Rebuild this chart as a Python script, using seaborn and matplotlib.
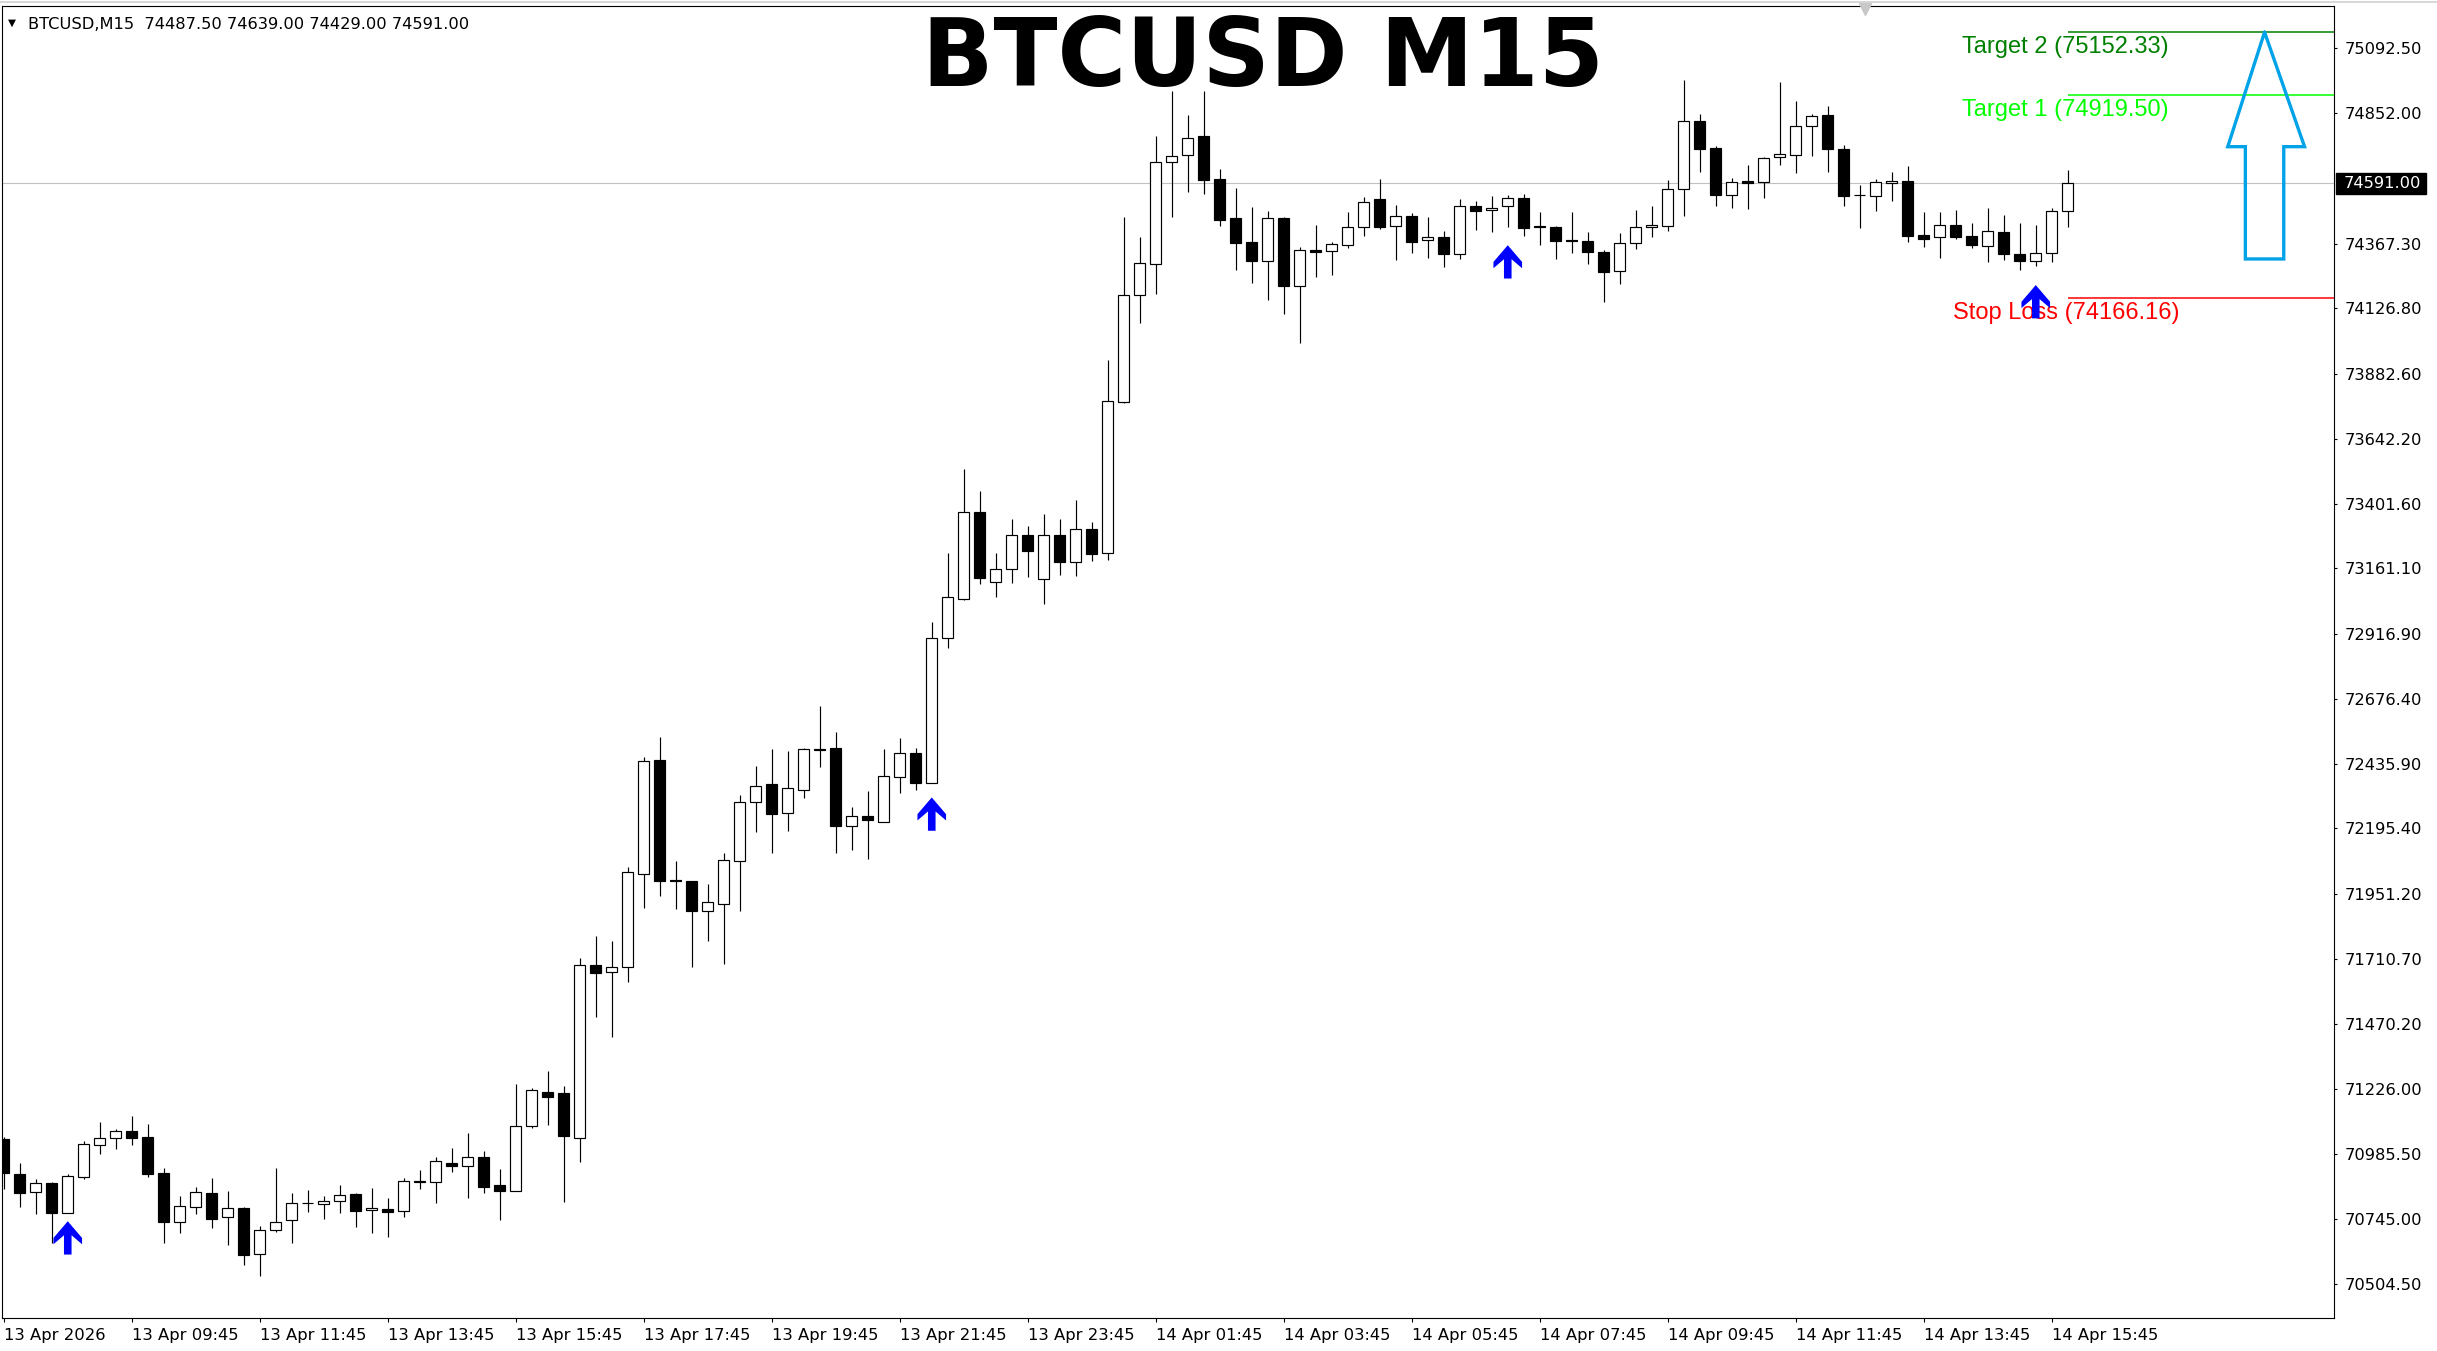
import numpy as np
import pandas as pd
import matplotlib
matplotlib.use("Agg")
import matplotlib.pyplot as plt
import seaborn as sns
from matplotlib.path import Path
from matplotlib.lines import Line2D
from matplotlib.patches import Rectangle
from matplotlib.transforms import blended_transform_factory

# ---------------- data ----------------
opens = [71041, 70911, 70843, 70877, 70768, 70901, 71021, 71047, 71070, 71049,
         70915, 70735, 70790, 70840, 70750, 70785, 70615, 70702, 70739, 70802,
         70799, 70810, 70837, 70776, 70780, 70773, 70882, 70880, 70954, 70940,
         70974, 70870, 70849, 71091, 71216, 71212, 71046, 71686, 71660, 71682,
         72024, 72449, 72002, 71999, 71890, 71916, 72075, 72292, 72359, 72254,
         72339, 72490, 72493, 72204, 72240, 72220, 72385, 72474, 72365, 72901,
         73048, 73369, 73112, 73157, 73283, 73121, 73283, 73183, 73306, 73217,
         73780, 74178, 74292, 74669, 74695, 74765, 74606, 74462, 74372, 74304,
         74462, 74211, 74343, 74338, 74360, 74427, 74531, 74431, 74468, 74382,
         74390, 74330, 74505, 74490, 74505, 74538, 74431, 74427, 74380, 74375,
         74334, 74264, 74368, 74428, 74431, 74569, 74821, 74722, 74546, 74600,
         74597, 74688, 74695, 74803, 74845, 74720, 74546, 74545, 74591, 74598,
         74399, 74390, 74435, 74394, 74357, 74410, 74330, 74301, 74331, 74487.5]
highs = [71050, 70952, 70893, 70880, 70911, 71033, 71104, 71080, 71127, 71097,
         70932, 70828, 70862, 70896, 70848, 70790, 70718, 70933, 70841, 70852,
         70828, 70870, 70840, 70858, 70821, 70895, 70926, 70974, 71008, 71063,
         70997, 70930, 71245, 71231, 71294, 71238, 71713, 71795, 71776, 72051,
         72460, 72534, 72073, 72001, 71988, 72103, 72318, 72426, 72489, 72481,
         72492, 72650, 72553, 72275, 72333, 72489, 72530, 72493, 72961, 73217,
         73530, 73448, 73217, 73343, 73320, 73364, 73343, 73413, 73332, 73934,
         74465, 74391, 74766, 74934, 74845, 74934, 74644, 74573, 74502, 74487,
         74465, 74353, 74436, 74372, 74484, 74540, 74606, 74509, 74479, 74465,
         74413, 74531, 74527, 74543, 74547, 74551, 74484, 74431, 74484, 74410,
         74342, 74406, 74492, 74507, 74603, 74975, 74848, 74728, 74611, 74659,
         74688, 74967, 74897, 74848, 74878, 74733, 74585, 74608, 74633, 74655,
         74483, 74485, 74492, 74444, 74498, 74472, 74444, 74435, 74498, 74639]
lows = [70854, 70790, 70764, 70654, 70768, 70894, 70987, 71005, 71020, 70901,
        70656, 70693, 70764, 70712, 70649, 70574, 70534, 70696, 70656, 70771,
        70745, 70765, 70716, 70694, 70676, 70750, 70854, 70802, 70920, 70824,
        70842, 70740, 70849, 71083, 71093, 70807, 70957, 71495, 71421, 71625,
        71900, 71945, 71896, 71679, 71777, 71691, 71890, 72181, 72105, 72186,
        72309, 72424, 72105, 72116, 72082, 72220, 72327, 72339, 72365, 72866,
        73045, 73101, 73053, 73108, 73128, 73027, 73138, 73134, 73188, 73191,
        73774, 74073, 74181, 74466, 74557, 74553, 74434, 74270, 74222, 74159,
        74105, 73999, 74244, 74251, 74349, 74396, 74422, 74307, 74333, 74314,
        74281, 74311, 74418, 74411, 74429, 74396, 74363, 74311, 74333, 74292,
        74151, 74216, 74348, 74393, 74415, 74471, 74634, 74508, 74501, 74497,
        74538, 74660, 74631, 74694, 74634, 74508, 74426, 74489, 74527, 74374,
        74353, 74312, 74383, 74352, 74300, 74305, 74268, 74285, 74298, 74429]
closes = [70914, 70842, 70877, 70768, 70903, 71023, 71047, 71070, 71047, 70912,
          70734, 70791, 70843, 70745, 70787, 70612, 70702, 70735, 70802, 70803,
          70810, 70832, 70775, 70784, 70769, 70884, 70884, 70958, 70940, 70974,
          70864, 70849, 71089, 71223, 71198, 71052, 71686, 71659, 71682, 72032,
          72447, 72001, 71998, 71889, 71920, 72076, 72293, 72354, 72249, 72344,
          72489, 72488, 72203, 72240, 72228, 72388, 72474, 72365, 72901, 73053,
          73369, 73124, 73157, 73283, 73224, 73283, 73183, 73308, 73215, 73783,
          74175, 74296, 74669, 74694, 74758, 74604, 74456, 74371, 74304, 74461,
          74208, 74345, 74334, 74364, 74427, 74523, 74429, 74471, 74374, 74390,
          74329, 74505, 74489, 74501, 74535, 74426, 74430, 74377, 74376, 74337,
          74262, 74368, 74428, 74435, 74569, 74821, 74720, 74549, 74595, 74593,
          74684, 74699, 74803, 74840, 74720, 74545, 74546, 74595, 74598, 74397,
          74385, 74435, 74393, 74361, 74413, 74327, 74304, 74331, 74487, 74591]

signal_idx = [4, 58, 94, 127]
signal_tip = [70736, 72310, 74361, 74213]

target2 = 75152.33
target1 = 74919.50
stop_loss = 74166.16
last_price = 74591.00

ytick_vals = [75092.50, 74852.00, 74367.30, 74126.80, 73882.60, 73642.20, 73401.60,
              73161.10, 72916.90, 72676.40, 72435.90, 72195.40, 71951.20, 71710.70,
              71470.20, 71226.00, 70985.50, 70745.00, 70504.50]
xtick_idx = [0, 8, 16, 24, 32, 40, 48, 56, 64, 72, 80, 88, 96, 104, 112, 120, 128]
xtick_labels = ["13 Apr 2026", "13 Apr 09:45", "13 Apr 11:45", "13 Apr 13:45",
                "13 Apr 15:45", "13 Apr 17:45", "13 Apr 19:45", "13 Apr 21:45",
                "13 Apr 23:45", "14 Apr 01:45", "14 Apr 03:45", "14 Apr 05:45",
                "14 Apr 07:45", "14 Apr 09:45", "14 Apr 11:45", "14 Apr 13:45",
                "14 Apr 15:45"]

big_arrow_x = [141.3, 143.8, 142.5, 142.5, 140.1, 140.1, 139.0, 141.3]
big_arrow_y = [target2, 74727, 74727, 74310, 74310, 74727, 74727, target2]

# ---------------- figure ----------------
sns.set_style("white")
plt.rcParams['font.family'] = ['DejaVu Sans']

W, H, DPI = 2437, 1351, 100
fig = plt.figure(figsize=(W / DPI, H / DPI), dpi=DPI)
fig.patch.set_facecolor('white')
ax = fig.add_axes([2 / W, 1 - 1318 / H, (2334 - 2) / W, (1318 - 6) / H])
ax.set_facecolor('white')

df = pd.DataFrame({'x': np.arange(len(opens)), 'open': opens, 'high': highs,
                   'low': lows, 'close': closes})
bull = df['close'] >= df['open']
body_bottom = np.minimum(df['open'], df['close'])
body_h = np.maximum((df['close'] - df['open']).abs(), 1.5)

ax.vlines(df['x'], df['low'], df['high'], color='black', linewidth=0.85, zorder=2)
ax.bar(df['x'], body_h, bottom=body_bottom, width=0.66,
       color=np.where(bull, 'white', 'black'), edgecolor='black',
       linewidth=0.85, zorder=3)

xmin, xmax = -0.11, 145.64
ymin, ymax = 70376.7, 75249.5
ax.set_xlim(xmin, xmax)
ax.set_ylim(ymin, ymax)

# current price line
ax.axhline(last_price, color='#C0C0C0', linewidth=0.8, zorder=1)

# signal arrows
arrow_path = Path([(0, 0), (14.3, -16.7), (14.3, -23), (3.8, -14), (3.8, -33.3),
                   (-3.8, -33.3), (-3.8, -14), (-14.3, -23), (-14.3, -16.7), (0, 0)],
                  [Path.MOVETO] + [Path.LINETO] * 8 + [Path.CLOSEPOLY])
sig = pd.DataFrame({'x': signal_idx, 'y': signal_tip})
ms_pt = 66.6 * 72 / DPI
sns.scatterplot(data=sig, x='x', y='y', marker=arrow_path, s=ms_pt ** 2,
                color='#0000FF', edgecolor='none', linewidth=0, ax=ax, zorder=5,
                legend=False)

# target / stop lines
last_x = df['x'].iloc[-1]
for lvl, col in [(target2, '#008000'), (target1, '#00FF00'), (stop_loss, '#FF0000')]:
    ax.plot([last_x, xmax], [lvl, lvl], color=col, linewidth=1.1, zorder=4,
            solid_capstyle='butt')
txt_off = -21 * 72 / DPI
ax.annotate(f"Target 2 ({target2:.2f})", xy=(122.4, target2), xytext=(0, txt_off),
            textcoords='offset points', ha='left', va='baseline', color='#008000',
            fontsize=17, family='Liberation Sans', zorder=6)
ax.annotate(f"Target 1 ({target1:.2f})", xy=(122.4, target1), xytext=(0, txt_off),
            textcoords='offset points', ha='left', va='baseline', color='#00FF00',
            fontsize=17, family='Liberation Sans', zorder=6)
ax.annotate(f"Stop Loss ({stop_loss:.2f})", xy=(121.85, stop_loss), xytext=(0, txt_off),
            textcoords='offset points', ha='left', va='baseline', color='#FF0000',
            fontsize=17, family='Liberation Sans', zorder=4)

# big outlined arrow
ax.plot(big_arrow_x, big_arrow_y, color='#00A2E8', linewidth=2.4,
        solid_joinstyle='miter', zorder=4)

# axes styling
ax.set_xlabel('')
ax.set_ylabel('')
for s in ax.spines.values():
    s.set_color('black')
    s.set_linewidth(0.8)
ax.yaxis.tick_right()
ax.set_yticks(ytick_vals)
ax.set_yticklabels([f"{v:.2f}" for v in ytick_vals])
ax.set_xticks(xtick_idx)
ax.set_xticklabels(xtick_labels)
for lab in ax.get_xticklabels():
    lab.set_ha('left')
ax.tick_params(axis='y', which='both', right=True, left=False, direction='out',
               length=2.5, width=0.8, pad=5.5, labelsize=11.7, colors='black')
ax.tick_params(axis='x', which='both', bottom=True, direction='out',
               length=3, width=0.8, pad=4, labelsize=11.8, colors='black')
ax.grid(False)

# current price tag
btr = blended_transform_factory(ax.transAxes, ax.transData)
tag_h = 21.6 * (ymax - ymin) / 1312
ax.add_patch(Rectangle((1.00086, last_price - tag_h / 2), 0.0386, tag_h,
                       transform=btr, facecolor='black', edgecolor='black',
                       clip_on=False, zorder=10))
ax.text(1.0040, last_price, f"{last_price:.2f}", transform=btr, color='white',
        fontsize=11.7, ha='left', va='center', zorder=11, clip_on=False)

# chart shift marker
ax.plot([0.7989], [0.9975], marker='v', transform=ax.transAxes, color='#C8C8C8',
        markersize=8, clip_on=False, zorder=7)

# header and title
fig.add_artist(Line2D([0, 1], [1 - 1.5 / H, 1 - 1.5 / H], color='#D0D0D0', linewidth=1.2))
fig.text(8 / W, 1 - 26 / H, "\u25BC", fontsize=7.5, color='black', ha='left', va='baseline')
fig.text(28 / W, 1 - 29.3 / H, "BTCUSD,M15  74487.50 74639.00 74429.00 74591.00",
         fontsize=11.7, color='black', ha='left', va='baseline')
fig.text(1263 / W, 1 - 86 / H, "BTCUSD M15", fontsize=67.5, fontweight='bold',
         color='black', ha='center', va='baseline')

fig.savefig("out.png", dpi=DPI, facecolor='white')
